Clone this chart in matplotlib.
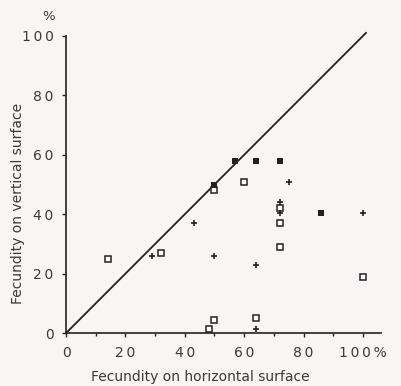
import matplotlib.pyplot as plt
from matplotlib.ticker import FixedLocator

# open squares
open_x = [14, 32, 50, 60, 72, 72, 72, 100, 50, 48, 64]
open_y = [25, 27, 48, 51, 42, 37, 29, 19, 4.5, 1.4, 5]

# filled squares
fill_x = [50, 57, 64, 72, 86]
fill_y = [50, 58, 58, 58, 40.5]

# crosses
plus_x = [29, 43, 50, 64, 64, 75, 72, 72, 100]
plus_y = [26, 37, 26, 23, 1.4, 51, 44, 40.5, 40.5]

line_x = [0, 101]
line_y = [0, 101]

xticks = [0, 20, 40, 60, 80, 100]
xlabels = ["0", "20", "40", "60", "80", "100%"]
yticks = [0, 20, 40, 60, 80, 100]
ylabels = ["0", "20", "40", "60", "80", "100"]

ink = "#222222"
txt = "#3a3a3a"
bg = "#f8f6f4"


def spaced(s):
    # old typesetting: digits spread out a little
    return "\u2009".join(s)


fig = plt.figure(figsize=(4.01, 3.86), dpi=100, facecolor=bg)
ax = fig.add_axes([0.1646, 0.137, 0.785, 0.77])
ax.set_facecolor(bg)

ax.plot(line_x, line_y, color=ink, lw=1.3, clip_on=False, zorder=2)
ax.plot(open_x, open_y, ls="none", marker="s", ms=4.3, mfc="white",
        mec=ink, mew=1.1, clip_on=False, zorder=3)
ax.plot(fill_x, fill_y, ls="none", marker="s", ms=5, mfc=ink,
        mew=0, clip_on=False, zorder=3)
ax.plot(plus_x, plus_y, ls="none", marker="+", ms=5, mec=ink,
        mew=1.2, clip_on=False, zorder=3)

ax.set_xlim(0, 106)
ax.set_ylim(0, 100)
for s in ["top", "right"]:
    ax.spines[s].set_visible(False)
for s in ["left", "bottom"]:
    ax.spines[s].set_color(ink)
    ax.spines[s].set_linewidth(1.2)

ax.set_xticks(xticks)
ax.set_xticklabels([spaced(l) for l in xlabels])
ax.set_yticks(yticks)
ax.set_yticklabels([spaced(l) for l in ylabels])
ax.xaxis.set_minor_locator(FixedLocator([10, 30, 50, 70, 90]))
ax.tick_params(axis="both", which="major", length=3, width=1, color=ink,
               labelsize=10, labelcolor=txt, pad=6)
ax.tick_params(axis="x", which="minor", length=2, width=1, color=ink)

fig.text(200 / 401, 1 - 377 / 386, "Fecundity on horizontal surface",
         fontsize=10, color=txt, ha="center", va="center")
fig.text(18 / 401, 1 - 203 / 386, "Fecundity on vertical surface",
         fontsize=10, color=txt, ha="center", va="center", rotation=90)
fig.text(49 / 401, 1 - 16 / 386, "%", fontsize=9.5, color=txt,
         ha="center", va="center")

fig.savefig("out.png", dpi=100, facecolor=bg)
